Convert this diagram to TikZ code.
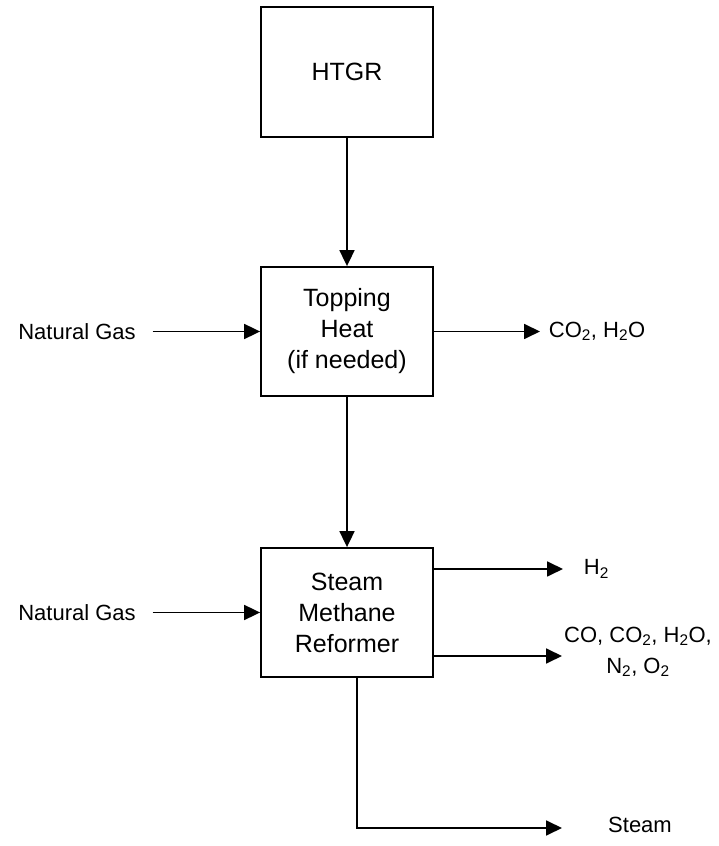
\documentclass[tikz,border=0pt]{standalone}
\usepackage{fontspec}
\setmainfont{Liberation Sans}
\usetikzlibrary{arrows.meta}
\begin{document}
\begin{tikzpicture}[x=1pt,y=1pt,
  line width=1.8pt,
  boxst/.style={draw, line width=1.8pt, minimum width=172pt, minimum height=129pt, align=center, inner sep=0pt, font=\fontsize{25}{31}\selectfont},
  lab/.style={inner sep=0pt, align=center, font=\fontsize{22}{31}\selectfont},
  arr/.style={-{Triangle[length=16pt,width=15pt]}}]
\useasboundingbox (0,0) rectangle (719,846);
\node[boxst, minimum height=130pt] (htgr) at (347,774) {HTGR};
\node[boxst] (top) at (347,514.5) {Topping\\Heat\\(if needed)};
\node[boxst] (smr) at (347,233.5) {Steam\\Methane\\Reformer};
\node[lab] (ng1) at (77,514.5) {Natural Gas};
\node[lab] (ng2) at (77,233.5) {Natural Gas};
\node[lab, anchor=west] (co2) at (548,514.5) {CO\textsubscript{2}, H\textsubscript{2}O};
\node[lab, anchor=west] (h2) at (583,277) {H\textsubscript{2}};
\node[lab] (gas) at (638,194) {CO, CO\textsubscript{2}, H\textsubscript{2}O,\\N\textsubscript{2}, O\textsubscript{2}};
\node[lab] (steam) at (640,21) {Steam};
\coordinate (coend) at (562,190);
\coordinate (stend) at (562,18);
\draw[arr] (htgr) -- (top);
\draw[arr] (top) -- (smr);
\draw[arr] ([xshift=16pt]ng1.east) -- (top.west);
\draw[arr] ([xshift=16pt]ng2.east) -- (smr.west);
\draw[arr] (top.east) -- ([xshift=-8pt]co2.west);
\draw[arr] ([xshift=-1pt]smr.east |- h2.west) -- ([xshift=-20pt]h2.west);
\draw[arr] (smr.east |- coend) -- (coend);
\draw[arr] ([xshift=10pt]smr.south) |- (stend);
\end{tikzpicture}
\end{document}
